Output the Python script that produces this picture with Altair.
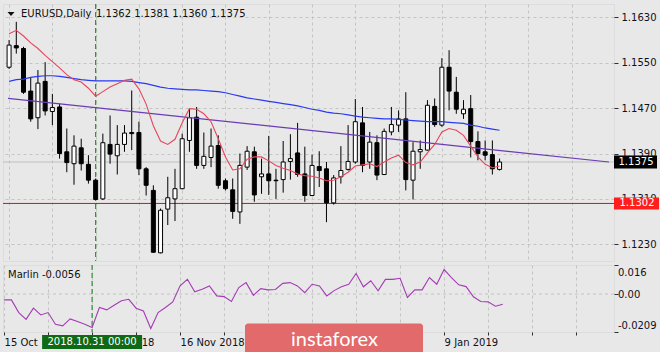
import altair as alt
import pandas as pd

# ---------------- data ----------------
bars = list(range(69))
opens = [1.1542, 1.1580, 1.1575, 1.1500, 1.1453, 1.1517, 1.1464, 1.1472, 1.1393, 1.1372,
         1.1400, 1.1371, 1.1343, 1.1310, 1.1406, 1.1386, 1.1406, 1.1427, 1.1427, 1.1363,
         1.1325, 1.1215, 1.1292, 1.1310, 1.1328, 1.1413, 1.1454, 1.1369, 1.1383, 1.1404,
         1.1342, 1.1326, 1.1287, 1.1366, 1.1393, 1.1349, 1.1354, 1.1343, 1.1344, 1.1376,
         1.1391, 1.1354, 1.1316, 1.1367, 1.1363, 1.1303, 1.1349, 1.1362, 1.1375, 1.1444,
         1.1375, 1.1409, 1.1353, 1.1428, 1.1440, 1.1451, 1.1343, 1.1393, 1.1396, 1.1473,
         1.1440, 1.1542, 1.1498, 1.1460, 1.1469, 1.1411, 1.1393, 1.1388, 1.1362]
highs = [1.1590, 1.1622, 1.1578, 1.1523, 1.1537, 1.1551, 1.1495, 1.1478, 1.1434, 1.1422,
         1.1416, 1.1387, 1.1346, 1.1425, 1.1457, 1.1440, 1.1440, 1.1501, 1.1446, 1.1366,
         1.1334, 1.1293, 1.1349, 1.1363, 1.1425, 1.1469, 1.1472, 1.1427, 1.1434, 1.1422,
         1.1346, 1.1346, 1.1390, 1.1403, 1.1402, 1.1381, 1.1421, 1.1363, 1.1412, 1.1424,
         1.1444, 1.1402, 1.1388, 1.1394, 1.1375, 1.1352, 1.1403, 1.1440, 1.1486, 1.1472,
         1.1428, 1.1422, 1.1434, 1.1472, 1.1466, 1.1498, 1.1410, 1.1413, 1.1484, 1.1487,
         1.1558, 1.1572, 1.1525, 1.1484, 1.1493, 1.1429, 1.1413, 1.1413, 1.1381]
lows = [1.1539, 1.1566, 1.1495, 1.1446, 1.1433, 1.1457, 1.1440, 1.1381, 1.1357, 1.1335,
        1.1360, 1.1337, 1.1308, 1.1308, 1.1372, 1.1353, 1.1393, 1.1396, 1.1352, 1.1316,
        1.1215, 1.1214, 1.1264, 1.1271, 1.1327, 1.1393, 1.1363, 1.1363, 1.1366, 1.1328,
        1.1325, 1.1275, 1.1266, 1.1361, 1.1305, 1.1319, 1.1317, 1.1310, 1.1321, 1.1344,
        1.1349, 1.1305, 1.1315, 1.1331, 1.1269, 1.1300, 1.1337, 1.1360, 1.1372, 1.1357,
        1.1363, 1.1343, 1.1352, 1.1422, 1.1428, 1.1325, 1.1309, 1.1363, 1.1395, 1.1437,
        1.1437, 1.1466, 1.1460, 1.1451, 1.1383, 1.1378, 1.1378, 1.1353, 1.1360]
closes = [1.1581, 1.1576, 1.1498, 1.1451, 1.1514, 1.1465, 1.1471, 1.1390, 1.1374, 1.1403,
          1.1372, 1.1343, 1.1309, 1.1409, 1.1389, 1.1406, 1.1426, 1.1425, 1.1363, 1.1334,
          1.1216, 1.1290, 1.1312, 1.1328, 1.1416, 1.1453, 1.1369, 1.1385, 1.1403, 1.1334,
          1.1328, 1.1288, 1.1369, 1.1394, 1.1317, 1.1354, 1.1342, 1.1342, 1.1375, 1.1381,
          1.1353, 1.1316, 1.1369, 1.1360, 1.1303, 1.1347, 1.1360, 1.1376, 1.1446, 1.1369,
          1.1410, 1.1352, 1.1429, 1.1441, 1.1451, 1.1344, 1.1394, 1.1397, 1.1475, 1.1441,
          1.1542, 1.1500, 1.1468, 1.1468, 1.1411, 1.1390, 1.1387, 1.1363, 1.1375]
ma_fast = [1.1601, 1.1607, 1.1597, 1.1585, 1.1575, 1.1563, 1.1552, 1.1541, 1.1529, 1.1520,
           1.1516, 1.1505, 1.1491, 1.1499, 1.1507, 1.1513, 1.1519, 1.1521, 1.1504, 1.1477,
           1.1439, 1.1412, 1.1406, 1.1415, 1.1444, 1.1469, 1.1468, 1.1460, 1.1446, 1.1416,
           1.1384, 1.1361, 1.1363, 1.1380, 1.1384, 1.1384, 1.1377, 1.1369, 1.1364, 1.1360,
           1.1354, 1.1351, 1.1350, 1.1347, 1.1342, 1.1343, 1.1349, 1.1357, 1.1368, 1.1370,
           1.1372, 1.1367, 1.1375, 1.1382, 1.1387, 1.1374, 1.1370, 1.1375, 1.1391, 1.1406,
           1.1428, 1.1434, 1.1431, 1.1422, 1.1403, 1.1384, 1.1371, 1.1365, 1.1368]
ma_slow = [1.1517, 1.1520, 1.1521, 1.1524, 1.1526, 1.1527, 1.1527, 1.1526, 1.1524, 1.1522,
           1.1520, 1.1519, 1.1518, 1.1518, 1.1518, 1.1518, 1.1518, 1.1517, 1.1515, 1.1513,
           1.1510, 1.1507, 1.1505, 1.1504, 1.1503, 1.1502, 1.1502, 1.1501, 1.1500, 1.1499,
           1.1497, 1.1494, 1.1491, 1.1488, 1.1486, 1.1484, 1.1482, 1.1480, 1.1478, 1.1476,
           1.1474, 1.1471, 1.1468, 1.1466, 1.1463, 1.1461, 1.1460, 1.1458, 1.1456, 1.1454,
           1.1453, 1.1452, 1.1451, 1.1451, 1.1450, 1.1449, 1.1448, 1.1447, 1.1446, 1.1446,
           1.1446, 1.1445, 1.1444, 1.1443, 1.1440, 1.1438, 1.1435, 1.1433, 1.1431]
marlin = [-0.0032, -0.0032, -0.0102, -0.0139, -0.0078, -0.0115, -0.0102, -0.0166, -0.0175, -0.0137,
          -0.0151, -0.0166, -0.0184, -0.0074, -0.0087, -0.0062, -0.0037, -0.0029, -0.0078, -0.0093,
          -0.0190, -0.0102, -0.0074, -0.0043, 0.0045, 0.0081, 0.0012, 0.0026, 0.0045, -0.0010,
          -0.0014, -0.0041, 0.0036, 0.0063, -0.0007, 0.0030, 0.0023, 0.0025, 0.0059, 0.0063,
          0.0045, 0.0008, 0.0054, 0.0045, -0.0010, 0.0019, 0.0040, 0.0054, 0.0113, 0.0040,
          0.0073, 0.0018, 0.0081, 0.0081, 0.0087, -0.0019, 0.0023, 0.0023, 0.0091, 0.0054,
          0.0135, 0.0091, 0.0051, 0.0041, -0.0015, -0.0041, -0.0043, -0.0067, -0.0056]

date_tick_bars = [0, 12, 24, 36, 48, 60]
date_tick_labels = ["15 Oct", "31 Oct 2018", "16 Nov 2018", "4 Dec 2018", "20 Dec 2018", "9 Jan 2019"]
grid_bars = list(range(0, 79, 6))
price_ticks = [1.1630, 1.1550, 1.1470, 1.1390, 1.1310, 1.1230]
marlin_ticks = [0.016, 0.0, -0.0209]
marlin_tick_labels = ["0.016", "0.00", "-0.0209"]
trend_bars = [-0.15, 83.17]
trend_prices = [1.1487, 1.1375]
support_level = 1.1302
separator_bar = 12
separator_label = "2018.10.31 00:00"
symbol_label = "EURUSD,Daily"
indicator_name = "Marlin"
watermark = "instaforex"

# ---------------- styling ----------------
FONT = "DejaVu Sans"
BG = "#e8e8e8"
W, H_MAIN, H_IND = 611, 257, 67
GRID = dict(grid=True, gridDash=[3, 3], gridColor="#c4c4c4", gridWidth=1)

df = pd.DataFrame({"bar": bars, "open": opens, "high": highs, "low": lows, "close": closes,
                   "ma_fast": ma_fast, "ma_slow": ma_slow, "marlin": marlin})
last = pd.DataFrame({"price": [closes[-1]]})
level = pd.DataFrame({"price": [support_level]})
trend = pd.DataFrame({"bar": trend_bars, "price": trend_prices})
sep = pd.DataFrame({"bar": [separator_bar], "label": [separator_label]})
ohlc_text = " ".join(f"{v:.4f}" for v in (opens[-1], highs[-1], lows[-1], closes[-1]))
head = pd.DataFrame({"sym": [symbol_label], "ohlc": [ohlc_text],
                     "ind": [f"{indicator_name} {marlin[-1]:.4f}"], "wm": [watermark]})

xs = alt.Scale(domain=[-0.15, 83.17], nice=False, zero=False)
ys = alt.Scale(domain=[1.12006, 1.16534], nice=False, zero=False)
ms = alt.Scale(domain=[-0.0209, 0.016], nice=False, zero=False)

x_main_axis = alt.Axis(values=grid_bars, labels=False, ticks=False, domain=False,
                       title=None, zindex=0, **GRID)
y_main_axis = alt.Axis(orient="right", values=price_ticks, format=".4f", tickSize=4,
                       tickColor="#303030", labelPadding=3, domain=False, title=None,
                       labelFont=FONT, labelFontSize=10, labelColor="#101020", zindex=0, **GRID)

expr = "''"
for b, lab in reversed(list(zip(date_tick_bars, date_tick_labels))):
    expr = f"datum.value == {b} ? '{lab}' : " + expr
x_ind_axis = alt.Axis(values=grid_bars, labelExpr=expr, tickSize=3, tickColor="#303030",
                      labelAlign="left", labelPadding=2, labelFont=FONT, labelFontSize=10,
                      labelColor="#101020", labelOverlap=False, labelFlush=False,
                      domain=False, title=None, zindex=0, **GRID)
y_ind_axis = alt.Axis(orient="right", values=marlin_ticks, labels=False, tickSize=4,
                      tickColor="#303030", domain=False, grid=False, title=None, zindex=0)


def XM(f):
    return alt.X(f, scale=xs, axis=x_main_axis)


def YM(f):
    return alt.Y(f, scale=ys, axis=y_main_axis)


def XI(f):
    return alt.X(f, scale=xs, axis=x_ind_axis)


def YI(f):
    return alt.Y(f, scale=ms, axis=y_ind_axis)


base = alt.Chart(df)

# ---------------- main panel ----------------
price_line = alt.Chart(last).mark_rule(color="#c0c0c0", strokeWidth=1).encode(y=YM("price:Q"))
level_line = alt.Chart(level).mark_rule(color="#ff0000", strokeWidth=1).encode(y=YM("price:Q"))
sep_line = alt.Chart(sep).mark_rule(color="#2f8f2f", strokeWidth=1.2, strokeDash=[5, 3]).encode(x=XM("bar:Q"))
wicks = base.mark_rule(color="black", strokeWidth=1, clip=True).encode(
    x=XM("bar:Q"), y=YM("low:Q"), y2="high:Q")
bodies = base.mark_bar(size=4, stroke="black", strokeWidth=1, clip=True).encode(
    x=XM("bar:Q"), y=YM("open:Q"), y2="close:Q",
    fill=alt.condition("datum.close >= datum.open", alt.value("white"), alt.value("black")))
trend_line = alt.Chart(trend).mark_line(color="#6a3cb4", strokeWidth=1.2, clip=True).encode(
    x=XM("bar:Q"), y=YM("price:Q"))
slow_line = base.mark_line(color="#2a3af2", strokeWidth=1.2, clip=True).encode(
    x=XM("bar:Q"), y=YM("ma_slow:Q"))
fast_line = base.mark_line(color="#e8455c", strokeWidth=1.1, clip=True).encode(
    x=XM("bar:Q"), y=YM("ma_fast:Q"))

last_box = alt.Chart(last).mark_tick(orient="horizontal", size=43, thickness=13,
                                     color="black", opacity=1).encode(
    x=alt.value(632.5), y=YM("price:Q"))
last_txt = alt.Chart(last).mark_text(color="white", font=FONT, fontSize=10,
                                     align="center", baseline="middle").encode(
    x=alt.value(633), y=YM("price:Q"), text=alt.Text("price:Q", format=".4f"))
lvl_box = alt.Chart(level).mark_tick(orient="horizontal", size=45, thickness=12,
                                     color="#ff1e1e", opacity=1).encode(
    x=alt.value(633.5), y=YM("price:Q"))
lvl_txt = alt.Chart(level).mark_text(color="white", font=FONT, fontSize=10,
                                     align="center", baseline="middle").encode(
    x=alt.value(634), y=YM("price:Q"), text=alt.Text("price:Q", format=".4f"))

tri = alt.Chart(head).mark_point(shape="M-1,-0.6L1,-0.6L0,0.6Z", filled=True, size=49,
                                 color="#101010", opacity=1).encode(
    x=alt.value(8), y=alt.value(10))
sym_txt = alt.Chart(head).mark_text(font=FONT, fontSize=10, color="#101010",
                                    align="left", baseline="middle").encode(
    x=alt.value(18), y=alt.value(9.7), text="sym:N")
ohlc_txt = alt.Chart(head).mark_text(font=FONT, fontSize=10, color="#101010",
                                     align="left", baseline="middle").encode(
    x=alt.value(93), y=alt.value(9.7), text="ohlc:N")

main = alt.layer(price_line, level_line, sep_line, wicks, bodies, trend_line, slow_line,
                 fast_line, last_box, last_txt, lvl_box, lvl_txt, tri, sym_txt, ohlc_txt
                 ).properties(width=W, height=H_MAIN)

# ---------------- indicator panel ----------------
zero_df = pd.DataFrame({"v": [marlin_ticks[1]]})
zero_line = alt.Chart(zero_df).mark_rule(color="#c4c4c4", strokeDash=[3, 3]).encode(y=YI("v:Q"))
sep_line2 = alt.Chart(sep).mark_rule(color="#2f8f2f", strokeWidth=1.2, strokeDash=[5, 3]).encode(x=XI("bar:Q"))
mline = base.mark_line(color="#a43cb4", strokeWidth=1.1, clip=True).encode(
    x=XI("bar:Q"), y=YI("marlin:Q"))
ind_txt = alt.Chart(head).mark_text(font=FONT, fontSize=10, color="#101010",
                                    align="left", baseline="middle").encode(
    x=alt.value(5), y=alt.value(9.7), text="ind:N")

lab_layers = []
for v, t, dy in zip(marlin_ticks, marlin_tick_labels, [7.5, 0.5, -6]):
    d = pd.DataFrame({"v": [v], "t": [t]})
    lab_layers.append(alt.Chart(d).mark_text(font=FONT, fontSize=10, color="#101020",
                                             align="left", baseline="middle", dy=dy).encode(
        x=alt.value(615), y=YI("v:Q"), text="t:N"))

sep_box = alt.Chart(sep).mark_tick(orient="horizontal", size=100, thickness=14,
                                   color="#0e6a14", opacity=1).encode(
    x=XI("bar:Q"), y=alt.value(77))
sep_txt = alt.Chart(sep).mark_text(font=FONT, fontSize=10, color="white",
                                   align="center", baseline="middle").encode(
    x=XI("bar:Q"), y=alt.value(77), text="label:N")

wm_box = alt.Chart(head).mark_rect(color="#e36a6a", cornerRadius=3).encode(
    x=alt.value(242), x2=alt.value(420), y=alt.value(58.5), y2=alt.value(96))
wm_txt = alt.Chart(head).mark_text(font="Lato", fontSize=20, color="white",
                                   align="left", baseline="alphabetic").encode(
    x=alt.value(288), y=alt.value(80.5), text="wm:N")

ind = alt.layer(zero_line, sep_line2, mline, ind_txt, *lab_layers, sep_box, sep_txt,
                wm_box, wm_txt).properties(width=W, height=H_IND)

chart = alt.vconcat(main, ind, spacing=0).properties(
    background=BG,
    padding={"left": 2, "top": 2, "right": 0, "bottom": 0},
).configure_view(stroke="#3c3c3c", strokeWidth=1).configure(font=FONT)

chart.save("out.html", embed_options={"renderer": "svg", "actions": False})
